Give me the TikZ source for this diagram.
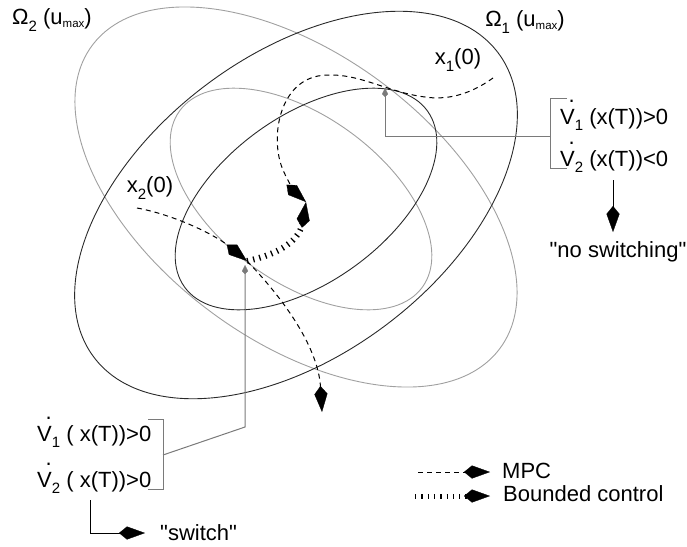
\documentclass[tikz,border=0pt]{standalone}
\usepackage{fontspec}
\setmainfont{Liberation Sans}[Ligatures=TeXOff]
\usetikzlibrary{arrows.meta}
\definecolor{dk}{HTML}{2A2A2A}
\definecolor{lg}{HTML}{A0A0A0}
\definecolor{cg}{HTML}{7A7A7A}
\newcommand\Vd{\leavevmode\rlap{\kern0.38em\raisebox{1.0em}{.}}V}
\newcommand\sbs[1]{\raisebox{-0.3em}{\fontsize{15}{15}\selectfont #1}}
\newcommand\sbm[1]{\raisebox{-0.15em}{\fontsize{11.5}{11.5}\selectfont #1}}
\begin{document}
\begin{tikzpicture}[x=1pt,y=-1pt,
  every node/.style={font=\fontsize{22}{26}\selectfont, inner sep=0pt},
  setblack/.style={draw=dk, line width=0.9pt},
  setgray/.style={draw=lg, line width=0.9pt},
  bigtip/.tip={Kite[length=26pt 0 0,width=13pt 0 0,inset=8pt 0 0,line width=0.3pt]},
  graytip/.tip={Kite[length=9pt 0 0,width=6pt 0 0,inset=3pt 0 0,line width=0.3pt]},
  mpc/.style={draw=black, line width=1pt, dash pattern=on 5pt off 4pt, -bigtip},
  bnd/.style={draw=black, line width=6pt, dash pattern=on 1.3pt off 5pt, -bigtip},
  conn/.style={draw=cg, line width=1pt},
  blk/.style={draw=black, line width=1pt}]
\useasboundingbox (0,0) rectangle (687,546);

% regions
\draw[setgray, rotate around={-36.6:(296,197)}] (296,197) ellipse [x radius=254, y radius=143];
\draw[setgray, rotate around={-36:(301,199)}] (301,199) ellipse [x radius=150, y radius=83];
\draw[setblack, rotate around={37:(296,205)}] (296,205) ellipse [x radius=253, y radius=150];
\draw[setblack, rotate around={36:(306,199)}] (306,199) ellipse [x radius=150, y radius=83];

% labels
\node (om2) at (52,20) {Ω\sbs{2} (u\sbm{max})};
\node (om1) at (525,22) {Ω\sbs{1} (u\sbm{max})};
\node (x1) at (458,60) {x\sbs{1}(0)};
\node (x2) at (150,188) {x\sbs{2}(0)};

% trajectories
\coordinate (x1s) at (493,78);
\coordinate (meet) at (306,202);
\coordinate (x2s) at (137,208);
\coordinate (swp) at (247,261);
\coordinate (x2e) at (322,412);
\draw[mpc] (x1s) .. controls (468,96) and (445,100) .. (425,97)
  .. controls (385,92) and (355,70) .. (318,76)
  .. controls (278,84) and (270,140) .. (283,170)
  .. controls (289,184) and (297,194) .. (meet);
\draw[mpc] (x2s) .. controls (175,215) and (215,235) .. (swp);
\draw[mpc] (swp) .. controls (280,295) and (318,345) .. (x2e);
\draw[bnd] (swp) .. controls (280,254) and (300,240) .. (meet);

% upper condition
\node[anchor=base west] (v1a) at (560,124) {\Vd\sbs{1} (x(T))>0};
\node[anchor=base west] (v2a) at (560,166) {\Vd\sbs{2} (x(T))<0};
\coordinate (bu1) at (567,98);
\coordinate (bu0) at (550,98);
\coordinate (bu2) at (550,168);
\coordinate (bu3) at (567,168);
\coordinate (bum) at (550,136);
\coordinate (tgtA) at (385,88);
\draw[conn] (bu1) -- (bu0) -- (bu2) -- (bu3);
\draw[conn,-graytip] (bum) -| (tgtA);
\node (nosw) at (618,252) {"no switching"};
\coordinate (nsa) at (613,180);
\coordinate (nsb) at (613,232);
\draw[blk,-bigtip] (nsa) -- (nsb);

% lower condition
\node[anchor=base west] (v1b) at (37,441) {\Vd\sbs{1} ( x(T))>0};
\node[anchor=base west] (v2b) at (37,487) {\Vd\sbs{2} ( x(T))>0};
\coordinate (bl1) at (148,419);
\coordinate (bl0) at (163,419);
\coordinate (bl2) at (163,489);
\coordinate (bl3) at (148,489);
\coordinate (blm) at (163,455);
\coordinate (blk) at (245,427);
\coordinate (tgtB) at (245,265);
\draw[conn] (bl1) -- (bl0) -- (bl2) -- (bl3);
\draw[conn,-graytip] (blm) -- (blk) -- (tgtB);
\node[anchor=west] (swt) at (160,533) {"switch"};
\coordinate (sa) at (90,500);
\coordinate (sb) at (145,533);
\draw[blk,-bigtip] (sa) |- (sb);

% legend
\node[anchor=west] (lmpc) at (502,471) {MPC};
\node[anchor=west] (lbnd) at (503,494) {Bounded control};
\coordinate (lm0) at (418,472);
\coordinate (lm1) at (490,472);
\coordinate (lb0) at (415,496);
\coordinate (lb1) at (490,496);
\draw[mpc] (lm0) -- (lm1);
\draw[bnd, line width=5pt] (lb0) -- (lb1);
\end{tikzpicture}
\end{document}
